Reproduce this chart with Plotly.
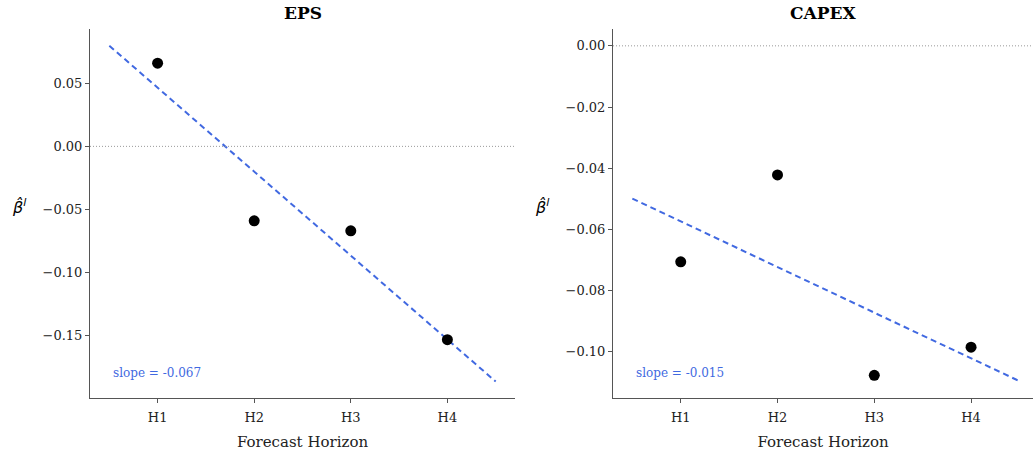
import numpy as np
import plotly.graph_objects as go
from plotly.subplots import make_subplots

horizons = [1, 2, 3, 4]
tick_labels = ["H1", "H2", "H3", "H4"]
eps_beta = [0.0659, -0.0590, -0.0669, -0.1532]
capex_beta = [-0.0706, -0.0422, -0.1077, -0.0985]
titles = ["EPS", "CAPEX"]

FONT = "Georgia, 'DejaVu Serif', serif"
BLUE = "#4169E1"
AX = "#555555"

fig = make_subplots(rows=1, cols=2)

for i, (vals, title) in enumerate(zip([eps_beta, capex_beta], titles), start=1):
    x = np.array(horizons, dtype=float)
    y = np.array(vals)
    slope, intercept = np.polyfit(x, y, 1)
    xl = np.array([0.5, 4.5])
    fig.add_trace(go.Scatter(x=xl, y=intercept + slope * xl, mode="lines",
                             line=dict(color=BLUE, width=2, dash="6px,4px"),
                             showlegend=False), row=1, col=i)
    fig.add_trace(go.Scatter(x=x, y=y, mode="markers",
                             marker=dict(color="black", size=11),
                             showlegend=False), row=1, col=i)
    fig.add_hline(y=0, line=dict(color="#999999", width=1, dash="1px,2px"), row=1, col=i)
    xr = "x" if i == 1 else "x2"
    yr = "y" if i == 1 else "y2"
    fig.add_annotation(x=0.05, y=0.068, xref=f"{xr} domain", yref=f"{yr} domain",
                       text=f"slope = {slope:.3f}", showarrow=False,
                       xanchor="left", yanchor="middle",
                       font=dict(family=FONT, size=12, color=BLUE))
    fig.add_annotation(x=0.5, y=1.0, xref=f"{xr} domain", yref="paper",
                       text=f"<b>{title}</b>", showarrow=False,
                       xanchor="center", yanchor="top", yshift=-1,
                       font=dict(family=FONT, size=17, color="black"))

# y labels (horizontal)
for xpos in [19 / 1033, 542 / 1033]:
    fig.add_annotation(x=xpos, y=0.545, xref="paper", yref="paper",
                       text="<i>β̂</i><sup><i>l</i></sup>", showarrow=False,
                       xanchor="center", yanchor="middle",
                       font=dict(family="DejaVu Sans", size=16, color="black"))

axis_common = dict(showline=True, linecolor=AX, linewidth=1, ticks="outside",
                   ticklen=4, tickcolor=AX, showgrid=False, zeroline=False,
                   tickfont=dict(family=FONT, size=13, color="#222222"), mirror=False)

fig.update_xaxes(**axis_common, tickvals=horizons, ticktext=tick_labels,
                 ticklabelstandoff=3,
                 title=dict(text="Forecast Horizon", font=dict(family=FONT, size=15, color="#222222"),
                            standoff=12))
fig.update_xaxes(range=[0.3, 4.7], domain=[90 / 1033, 515 / 1033], row=1, col=1)
fig.update_xaxes(range=[0.3, 4.64], domain=[613 / 1033, 1.0], row=1, col=2)

fig.update_yaxes(**axis_common, tickformat=".2f")
fig.update_yaxes(range=[-0.1994, 0.0930], tickvals=[0.05, 0.0, -0.05, -0.10, -0.15],
                 domain=[1 - 398 / 454, 1 - 29 / 454], row=1, col=1)
fig.update_yaxes(range=[-0.1151, 0.0055], tickvals=[0.0, -0.02, -0.04, -0.06, -0.08, -0.10],
                 domain=[1 - 398 / 454, 1 - 29 / 454], row=1, col=2)

fig.update_layout(width=1033, height=454, margin=dict(l=0, r=0, t=0, b=0),
                  plot_bgcolor="white", paper_bgcolor="white",
                  font=dict(family=FONT, color="#222222"))

fig.write_html("out.html")
